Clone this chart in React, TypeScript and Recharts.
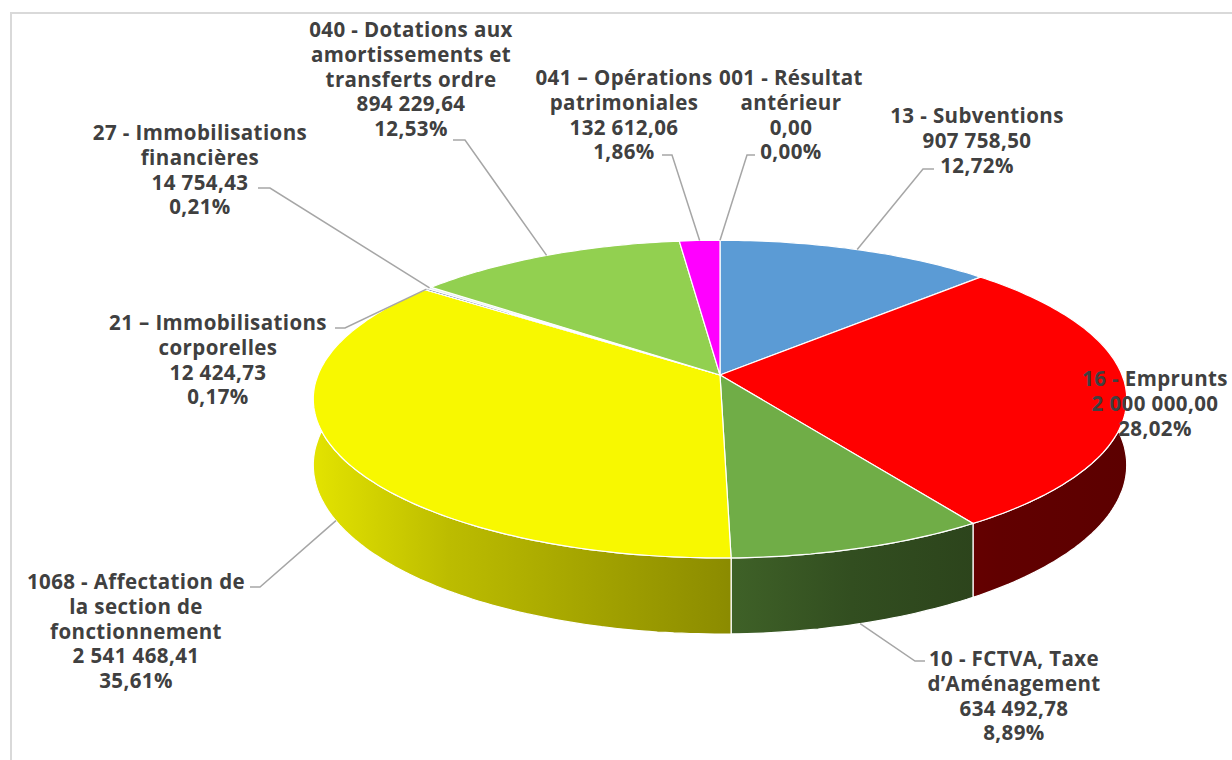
import React from "react";
import { PieChart, Pie } from "recharts";

const categories = [
  "13 - Subventions",
  "16 - Emprunts",
  "10 - FCTVA, Taxe\nd’Aménagement",
  "1068 - Affectation de\nla section de\nfonctionnement",
  "21 – Immobilisations\ncorporelles",
  "27 - Immobilisations\nfinancières",
  "040 - Dotations aux\namortissements et\ntransferts ordre",
  "041 – Opérations\npatrimoniales",
  "001 - Résultat\nantérieur",
];
const amounts = [907758.5, 2000000, 634492.78, 2541468.41, 12424.73, 14754.43, 894229.64, 132612.06, 0];
const colors = ["#5B9BD5", "#FF0000", "#70AD47", "#F8F800", "#1F3864", "#DEEBF7", "#92D050", "#FF00FF", "#A5A5A5"];

const data = categories.map((name, i) => ({ name, value: amounts[i] }));
const total = amounts.reduce((a, b) => a + b, 0);

// 3d look
const TILT = 0.386;
const DIST = 6.59;
const DEPTH = 64.5;
const WALL_SHADE = [
  [0, 0.92],
  [0.17, 0.76],
  [0.5, 0.57],
  [0.66, 0.45],
  [0.84, 0.38],
  [1, 0.36],
];

// label placement: text centre, first line centre, leader bend and end
const labelLayout = [
  { x: 977, y: 115, bend: [923, 169], end: [934, 169], wall: false },
  { x: 1155, y: 378 },
  { x: 1014, y: 658, bend: [915, 661], end: [925, 661], wall: true },
  { x: 136, y: 581, bend: [260, 587], end: [250, 587], wall: true },
  { x: 218, y: 322, bend: [345, 328], end: [335, 328], wall: false },
  { x: 200, y: 132, bend: [270, 188], end: [258, 188], wall: false },
  { x: 411, y: 29, bend: [465, 140], end: [453, 140], wall: false },
  { x: 624, y: 77, bend: [672, 155], end: [662, 155], wall: false },
  { x: 791, y: 77, bend: [747, 155], end: [755, 155], wall: false },
];

const CX = 720;
const CY = 375;
const R = 402;

function proj(cx: number, cy: number, r: number, deg: number, drop = 0) {
  const a = (deg * Math.PI) / 180;
  const X = r * Math.cos(a);
  const Z = r * Math.sin(a);
  const f = (DIST * r) / (DIST * r + Z);
  return [cx + X * f, cy - TILT * Z * f + drop * f];
}

function arc(cx: number, cy: number, r: number, a1: number, a2: number, drop = 0) {
  const n = Math.max(2, Math.ceil(Math.abs(a2 - a1)));
  const pts = [];
  for (let k = 0; k <= n; k++) pts.push(proj(cx, cy, r, a1 + ((a2 - a1) * k) / n, drop));
  return pts;
}

const toPath = (pts: number[][]) =>
  "M" + pts.map((p) => p[0].toFixed(1) + "," + p[1].toFixed(1)).join("L") + "Z";

function shade(hex: string, k: number) {
  const n = parseInt(hex.slice(1), 16);
  const c = [(n >> 16) & 255, (n >> 8) & 255, n & 255].map((v) => Math.round(v * k));
  return `rgb(${c[0]},${c[1]},${c[2]})`;
}

function fmtAmount(v: number) {
  const [int, dec] = v.toFixed(2).split(".");
  return int.replace(/\B(?=(\d{3})+(?!\d))/g, " ") + "," + dec;
}

const renderWall = (p: any) => {
  const { cx, cy, outerRadius, startAngle, endAngle, index } = p;
  if (startAngle === endAngle) return null;
  const top = arc(cx, cy, outerRadius, startAngle, endAngle);
  const bottom = arc(cx, cy, outerRadius, endAngle, startAngle, DEPTH);
  const id = `wall-${index}`;
  return (
    <g>
      <defs>
        <linearGradient id={id} gradientUnits="userSpaceOnUse" x1={cx - outerRadius - 8} x2={cx + outerRadius + 8} y1={0} y2={0}>
          {WALL_SHADE.map(([o, k]) => (
            <stop key={o} offset={o} stopColor={shade(colors[index], k)} />
          ))}
        </linearGradient>
      </defs>
      <path d={toPath([...top, ...bottom])} fill={`url(#${id})`} stroke="#fff" strokeWidth={1.2} />
    </g>
  );
};

const renderTop = (p: any) => {
  const { cx, cy, outerRadius, startAngle, endAngle, index } = p;
  if (startAngle === endAngle) return null;
  const pts = [[cx, cy], ...arc(cx, cy, outerRadius, startAngle, endAngle)];
  return <path d={toPath(pts)} fill={colors[index]} stroke="#fff" strokeWidth={1.2} />;
};

const renderLabel = (p: any) => {
  const { cx, cy, outerRadius, midAngle, index, value } = p;
  const lay = labelLayout[index];
  const lines = [
    ...categories[index].split("\n"),
    fmtAmount(value),
    ((value / total) * 100).toFixed(2).replace(".", ",") + "%",
  ];
  let leader = null;
  if (lay.bend) {
    const s = proj(cx, cy, outerRadius, midAngle, lay.wall ? DEPTH : 0);
    leader = (
      <polyline
        points={`${s[0]},${s[1]} ${lay.bend[0]},${lay.bend[1]} ${lay.end[0]},${lay.end[1]}`}
        fill="none"
        stroke="#A6A6A6"
        strokeWidth={1.5}
      />
    );
  }
  return (
    <g>
      {leader}
      <text
        x={lay.x}
        y={lay.y}
        textAnchor="middle"
        fill="#404040"
        fontFamily="'Open Sans', sans-serif"
        fontWeight={700}
        fontSize={20.5}
        letterSpacing={0.4}
      >
        {lines.map((t, i) => (
          <tspan key={i} x={lay.x} y={lay.y + i * 24.8} dominantBaseline="central">
            {t}
          </tspan>
        ))}
      </text>
    </g>
  );
};

export default function App() {
  const common = {
    data,
    dataKey: "value",
    nameKey: "name",
    cx: CX,
    cy: CY,
    outerRadius: R,
    startAngle: 90,
    endAngle: -270,
    isAnimationActive: false,
    fill: "none",
    stroke: "none",
    labelLine: false,
  };
  return (
    <div style={{ position: "absolute", left: 0, top: 0, width: 1232, height: 760, background: "#fff", overflow: "hidden" }}>
      <div
        style={{
          position: "absolute",
          left: 10,
          top: 12,
          width: 1240,
          height: 780,
          border: "2px solid #D9D9D9",
        }}
      />
      <div style={{ position: "absolute", left: 0, top: 0 }}>
        <PieChart width={1232} height={760} margin={{ top: 0, right: 0, bottom: 0, left: 0 }}>
          <Pie {...common} label={renderWall} />
          <Pie {...common} label={renderTop} />
          <Pie {...common} label={renderLabel} />
        </PieChart>
      </div>
    </div>
  );
}
